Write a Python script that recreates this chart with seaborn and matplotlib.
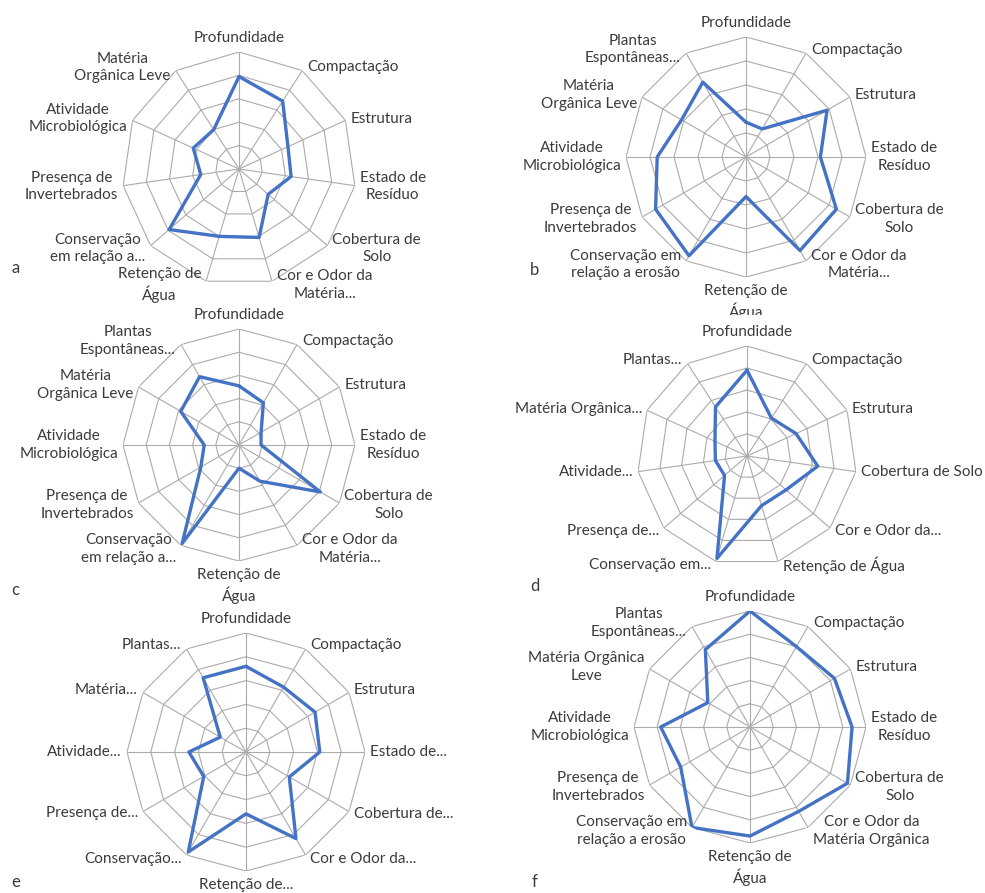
import numpy as np
import matplotlib
matplotlib.use("Agg")
import matplotlib.pyplot as plt
import seaborn as sns
import pandas as pd
from matplotlib.transforms import Bbox

sns.set_theme(style="white")
plt.rcParams["font.family"] = ["Lato", "DejaVu Sans"]

# Soil-quality indicators (scores 0-10) for six agroecosystems a-f
labels_a = ["Profundidade", "Compactação", "Estrutura", "Estado de\nResíduo",
            "Cobertura de\nSolo", "Cor e Odor da\nMatéria...", "Retenção de\nÁgua",
            "Conservação\nem relação a...", "Presença de\nInvertebrados",
            "Atividade\nMicrobiológica", "Matéria\nOrgânica Leve"]
values_a = [7.9, 6.9, 4.6, 4.5, 3.3, 6.1, 6.0, 7.9, 3.3, 4.3, 4.0]

labels_b = ["Profundidade", "Compactação", "Estrutura", "Estado de\nResíduo",
            "Cobertura de\nSolo", "Cor e Odor da\nMatéria...", "Retenção de\nÁgua",
            "Conservação em\nrelação a erosão", "Presença de\nInvertebrados",
            "Atividade\nMicrobiológica", "Matéria\nOrgânica Leve", "Plantas\nEspontâneas..."]
values_b = [2.9, 2.7, 7.8, 6.2, 8.7, 9.0, 3.3, 9.5, 8.7, 7.4, 6.2, 7.2]

labels_c = ["Profundidade", "Compactação", "Estrutura", "Estado de\nResíduo",
            "Cobertura de\nSolo", "Cor e Odor da\nMatéria...", "Retenção de\nÁgua",
            "Conservação\nem relação a...", "Presença de\nInvertebrados",
            "Atividade\nMicrobiológica", "Matéria\nOrgânica Leve", "Plantas\nEspontâneas..."]
values_c = [5.1, 4.2, 2.2, 1.9, 8.1, 3.6, 2.0, 9.8, 3.8, 3.0, 5.8, 6.8]

labels_d = ["Profundidade", "Compactação", "Estrutura", "Cobertura de Solo",
            "Cor e Odor da...", "Retenção de Água", "Conservação em...",
            "Presença de...", "Atividade...", "Matéria Orgânica...", "Plantas..."]
values_d = [7.8, 4.1, 4.9, 6.5, 4.7, 4.7, 9.7, 2.7, 2.9, 3.2, 5.3]

labels_e = ["Profundidade", "Compactação", "Estrutura", "Estado de...",
            "Cobertura de...", "Cor e Odor da...", "Retenção de...", "Conservação...",
            "Presença de...", "Atividade...", "Matéria...", "Plantas..."]
values_e = [7.2, 6.3, 6.7, 6.2, 4.2, 8.4, 5.2, 9.7, 4.1, 4.8, 2.5, 7.2]

labels_f = ["Profundidade", "Compactação", "Estrutura", "Estado de\nResíduo",
            "Cobertura de\nSolo", "Cor e Odor da\nMatéria Orgânica", "Retenção de\nÁgua",
            "Conservação em\nrelação a erosão", "Presença de\nInvertebrados",
            "Atividade\nMicrobiológica", "Matéria Orgânica\nLeve", "Plantas\nEspontâneas..."]
values_f = [10.0, 8.0, 8.4, 8.8, 9.7, 8.4, 9.4, 10.0, 6.9, 7.7, 4.2, 7.7]

ring_levels = [2, 4, 6, 8, 10]

W, H = 985, 893
GRID = "#ababab"
LINE = "#4472C4"
TEXT = "#3b3b3b"
FS = 11

fig = plt.figure(figsize=(W / 100, H / 100), dpi=100)
fig.patch.set_facecolor("white")

panels = [
    dict(tag="a", labels=labels_a, values=values_a, cx=239, cy=169, R=117,
         letter=(11, 268), clip=None),
    dict(tag="b", labels=labels_b, values=values_b, cx=746, cy=157, R=120,
         letter=(530, 270), clip=315),
    dict(tag="c", labels=labels_c, values=values_c, cx=239, cy=445, R=116,
         letter=(11, 590), clip=None),
    dict(tag="d", labels=labels_d, values=values_d, cx=747, cy=456, R=110,
         letter=(530, 586), clip=None),
    dict(tag="e", labels=labels_e, values=values_e, cx=246, cy=752, R=119,
         letter=(11, 882), clip=None),
    dict(tag="f", labels=labels_f, values=values_f, cx=750, cy=727, R=116,
         letter=(532, 882), clip=None),
]


def draw_panel(p):
    cx, cy, R = p["cx"], p["cy"], p["R"]
    labels, values = p["labels"], p["values"]
    n = len(labels)
    theta = np.arange(n) * 2 * np.pi / n
    tc = np.append(theta, theta[0])

    ax = fig.add_axes([(cx - R) / W, (H - cy - R) / H, 2 * R / W, 2 * R / H],
                      projection="polar")
    ax.set_theta_zero_location("N")
    ax.set_theta_direction(-1)
    ax.patch.set_alpha(0)

    # polygonal web: rings and spokes
    for lev in ring_levels:
        ax.plot(tc, np.full(n + 1, lev), color=GRID, lw=0.8, zorder=1)
    for t in theta:
        ax.plot([t, t], [0, ring_levels[-1]], color=GRID, lw=0.8, zorder=1)

    df = pd.DataFrame({"ang": tc, "score": np.append(values, values[0])})
    sns.lineplot(data=df, x="ang", y="score", sort=False, estimator=None,
                 color=LINE, lw=2.4, ax=ax, zorder=3)

    ax.set_ylim(0, ring_levels[-1])
    ax.set_xticks([])
    ax.set_yticks([])
    ax.set_xlabel("")
    ax.set_ylabel("")
    ax.grid(False)
    ax.spines["polar"].set_visible(False)

    clip_box = None
    if p["clip"] is not None:
        clip_box = Bbox.from_extents(0, H - p["clip"], W, H)

    # category labels outside the outer ring
    for t, lab in zip(theta, labels):
        s, c = np.sin(t), np.cos(t)
        vx = cx + R * s
        vy = cy - R * c
        if abs(s) < 0.1:
            ha = "center"
            x = vx
            if c > 0:
                va, y = "bottom", vy - 7
            else:
                va, y = "top", vy + 7
        else:
            ha = "left" if s > 0 else "right"
            x = vx + (5 if s > 0 else -5)
            va, y = "center", vy - 4 * c
        txt = fig.text(x / W, (H - y) / H, lab, ha=ha, va=va, fontsize=FS,
                       color=TEXT, multialignment="center", linespacing=1.3)
        if clip_box is not None:
            txt.set_clip_on(True)
            txt.set_clip_box(clip_box)

    lx, ly = p["letter"]
    fig.text(lx / W, (H - ly) / H, p["tag"], ha="left", va="center",
             fontsize=12, color=TEXT)


for p in panels:
    draw_panel(p)

fig.savefig("out.png", dpi=100, facecolor="white")
